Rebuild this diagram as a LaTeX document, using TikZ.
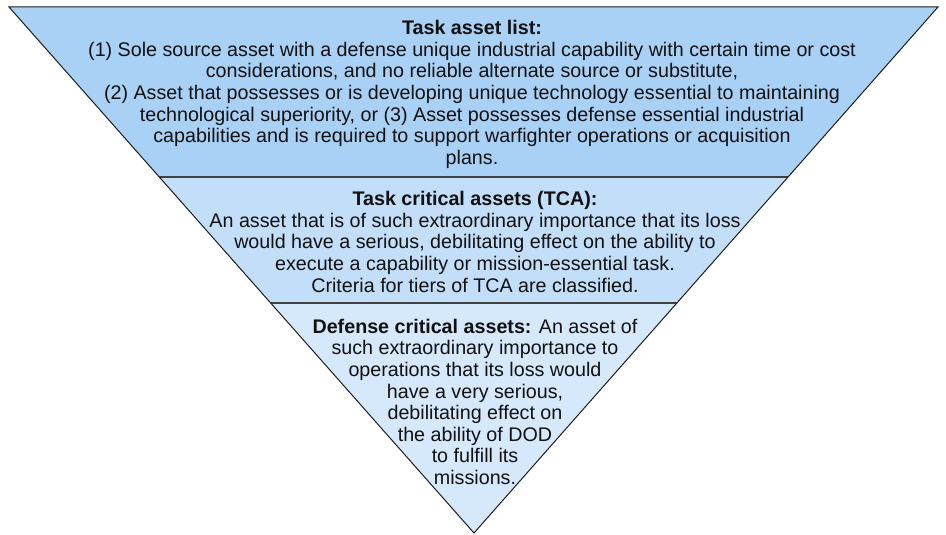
\documentclass[tikz,border=0pt]{standalone}
\usepackage{fontspec}
\setmainfont{Liberation Sans}
\usetikzlibrary{calc}
\definecolor{bandA}{HTML}{A9D0F5}
\definecolor{bandB}{HTML}{C2DEF9}
\definecolor{bandC}{HTML}{D5E8FC}
\definecolor{edgec}{HTML}{1E1E1E}
\definecolor{txt}{HTML}{111111}
\begin{document}
\begin{tikzpicture}[x=1pt,y=-1pt,
  bandtext/.style={anchor=north,inner sep=0pt,align=center,text=txt,
    font=\fontsize{19.7}{21.6}\selectfont},
  outline/.style={draw=edgec,line width=1pt,line join=miter},
  divider/.style={draw=edgec!85!white,line width=1.2pt}]
\useasboundingbox (0,0) rectangle (946,535);
\fill[white] (0,0) rectangle (946,535);
\coordinate (tl) at (9,7);
\coordinate (tr) at (938,7);
\coordinate (ap) at (474,533);
\coordinate (l1) at ($(tl)!0.3232!(ap)$);
\coordinate (r1) at ($(tr)!0.3232!(ap)$);
\coordinate (l2) at ($(tl)!0.5627!(ap)$);
\coordinate (r2) at ($(tr)!0.5627!(ap)$);
\fill[bandA] (tl) -- (tr) -- (r1) -- (l1) -- cycle;
\fill[bandB] (l1) -- (r1) -- (r2) -- (l2) -- cycle;
\fill[bandC] (l2) -- (r2) -- (ap) -- cycle;
\draw[divider] (l1) -- (r1);
\draw[divider] (l2) -- (r2);
\draw[outline] (tl) -- (tr) -- (ap) -- cycle;
\node[bandtext] (top) at (472,20.3) {\textbf{Task asset list:}\\
(1) Sole source asset with a defense unique industrial capability with certain time or cost\\
considerations, and no reliable alternate source or substitute,\\
(2) Asset that possesses or is developing unique technology essential to maintaining\\
technological superiority, or (3) Asset possesses defense essential industrial\\
capabilities and is required to support warfighter operations or acquisition\\
plans.};
\node[bandtext] (mid) at (475,191.3) {\textbf{Task critical assets (TCA):}\\
An asset that is of such extraordinary importance that its loss\\
would have a serious, debilitating effect on the ability to\\
execute a capability or mission-essential task.\\
Criteria for tiers of TCA are classified.};
\node[bandtext] (bot) at (475,318.8) {\textbf{Defense critical assets:} An asset of\\
such extraordinary importance to\\
operations that its loss would\\
have a very serious,\\
debilitating effect on\\
the ability of DOD\\
to fulfill its\\
missions.};
\end{tikzpicture}
\end{document}
